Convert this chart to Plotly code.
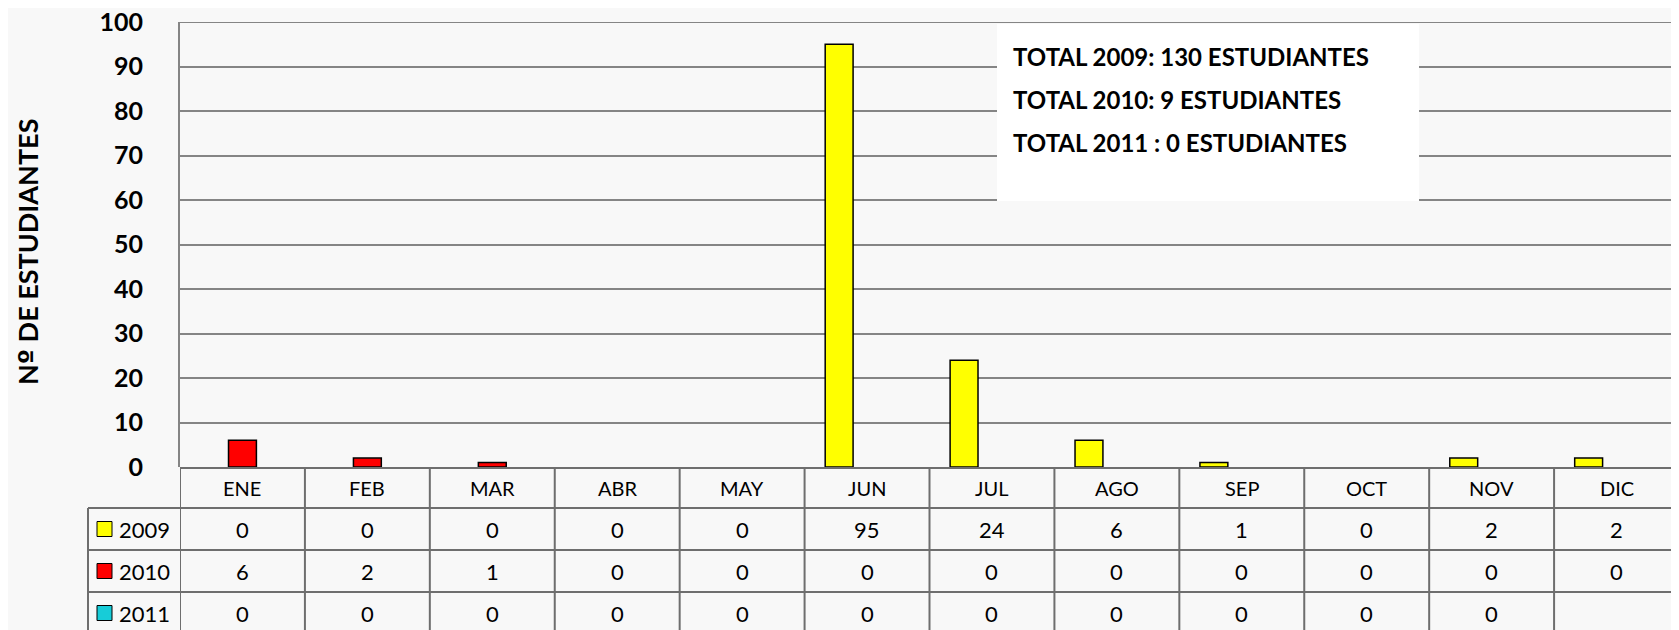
import plotly.graph_objects as go

months = ["ENE", "FEB", "MAR", "ABR", "MAY", "JUN", "JUL", "AGO", "SEP", "OCT", "NOV", "DIC"]
years = ["2009", "2010", "2011"]
v2009 = [0, 0, 0, 0, 0, 95, 24, 6, 1, 0, 2, 2]
v2010 = [6, 2, 1, 0, 0, 0, 0, 0, 0, 0, 0, 0]
v2011 = [0, 0, 0, 0, 0, 0, 0, 0, 0, 0, 0, None]
colors = ["#FFFF00", "#FF0000", "#17CCD8"]
y_ticks = list(range(0, 101, 10))
totals_text = ["TOTAL 2009: 130 ESTUDIANTES", "TOTAL 2010: 9 ESTUDIANTES", "TOTAL 2011 : 0 ESTUDIANTES"]
y_title = "N<span style='font-family:DejaVu Sans'>º</span> DE ESTUDIANTES"

# page body has an 8px margin; size figure so it fills the rest of the window
OFF = 8
W, H = 1679 - OFF, 630 - OFF
FONT = "Lato"
GRID = "#858585"
TLINE = "#6e6e6e"


def px(x):
    """window pixel x -> paper fraction"""
    return (x - OFF) / W


def py(y):
    """window pixel y (from top) -> paper fraction"""
    return 1 - (y - OFF) / H


series = [v2009, v2010, v2011]
fig = go.Figure()
for name, vals, col in zip(years, series, colors):
    fig.add_trace(go.Bar(
        x=months, y=vals, name=name,
        marker=dict(color=col,
                    line=dict(color="black", width=[1.5 if v else 0 for v in vals])),
        showlegend=False,
    ))

x_left = 180
y_zero, y_top = 467, 22

fig.update_layout(
    width=W, height=H,
    margin=dict(l=0, r=0, t=0, b=0, pad=0, autoexpand=False),
    paper_bgcolor="#f8f8f8",
    plot_bgcolor="rgba(0,0,0,0)",
    barmode="group",
    bargap=0.33,
    bargroupgap=0,
    xaxis=dict(
        domain=[px(x_left), 1],
        range=[-0.5, 11.5],
        showticklabels=False,
        showgrid=False,
        zeroline=False,
        showline=False,
        fixedrange=True,
        automargin=False,
    ),
    yaxis=dict(
        domain=[py(y_zero), py(y_top)],
        range=[0, 100],
        tickvals=y_ticks,
        showgrid=True,
        gridcolor=GRID,
        gridwidth=2,
        zeroline=False,
        showline=True,
        linecolor=GRID,
        linewidth=2,
        ticks="",
        ticklabelstandoff=30,
        ticklabeloverflow="allow",
        automargin=False,
        tickfont=dict(family=FONT, size=25, color="black", weight="bold"),
    ),
)

shapes = []
rows_y = [468, 508, 550, 592, 634]
# top gridline of the plot area (y = 100)
shapes.append(dict(type="line", xref="paper", yref="y", x0=px(x_left), x1=1,
                   y0=y_ticks[-1], y1=y_ticks[-1], line=dict(color=GRID, width=2)))
shapes.append(dict(type="line", xref="paper", yref="paper", x0=px(x_left), x1=1,
                   y0=py(468), y1=py(468), line=dict(color=TLINE, width=2)))
for yy in rows_y[1:4]:
    shapes.append(dict(type="line", xref="paper", yref="paper", x0=px(88), x1=1,
                       y0=py(yy), y1=py(yy), line=dict(color=TLINE, width=2)))
for k in range(len(months) + 1):
    shapes.append(dict(type="line", xref="x", yref="paper", x0=k - 0.5, x1=k - 0.5,
                       y0=py(468), y1=0, line=dict(color=TLINE, width=2)))
shapes.append(dict(type="line", xref="paper", yref="paper", x0=px(88), x1=px(88),
                   y0=py(508), y1=0, line=dict(color=TLINE, width=2)))
for i, col in enumerate(colors):
    cy = (rows_y[i + 1] + rows_y[i + 2]) / 2
    shapes.append(dict(type="rect", xref="paper", yref="paper",
                       x0=px(97), x1=px(112), y0=py(cy + 7.5), y1=py(cy - 7.5),
                       fillcolor=col, line=dict(color="black", width=1)))
shapes.append(dict(type="rect", xref="paper", yref="paper",
                   x0=px(997), x1=px(1419), y0=py(201), y1=py(24),
                   fillcolor="white", line=dict(width=0), layer="above"))
fig.update_layout(shapes=shapes)

ann = []
for m in months:
    ann.append(dict(x=m, xref="x", y=py(488), yref="paper", text=m, showarrow=False,
                    xanchor="center", yanchor="middle",
                    font=dict(family=FONT, size=20, color="black")))
for i, (name, vals) in enumerate(zip(years, series)):
    cy = (rows_y[i + 1] + rows_y[i + 2]) / 2
    ann.append(dict(x=px(117), xref="paper", y=py(cy), yref="paper", text=name,
                    xanchor="left", yanchor="middle", showarrow=False,
                    font=dict(family=FONT, size=22, color="black")))
    for m, v in zip(months, vals):
        if v is None:
            continue
        ann.append(dict(x=m, xref="x", y=py(cy), yref="paper", text=str(v), showarrow=False,
                        xanchor="center", yanchor="middle",
                        font=dict(family=FONT, size=22, color="black")))
for j, t in enumerate(totals_text):
    ann.append(dict(x=px(1011), xref="paper", y=py(57 + 43 * j), yref="paper", text=t,
                    xanchor="left", yanchor="middle", showarrow=False,
                    font=dict(family=FONT, size=24, color="black", weight="bold")))
ann.append(dict(x=px(27), xref="paper", y=py(252), yref="paper", text=y_title, textangle=-90,
                xanchor="center", yanchor="middle",
                showarrow=False, font=dict(family=FONT, size=27, color="black", weight="bold")))
fig.update_layout(annotations=ann)

fig.write_html("out.html")
